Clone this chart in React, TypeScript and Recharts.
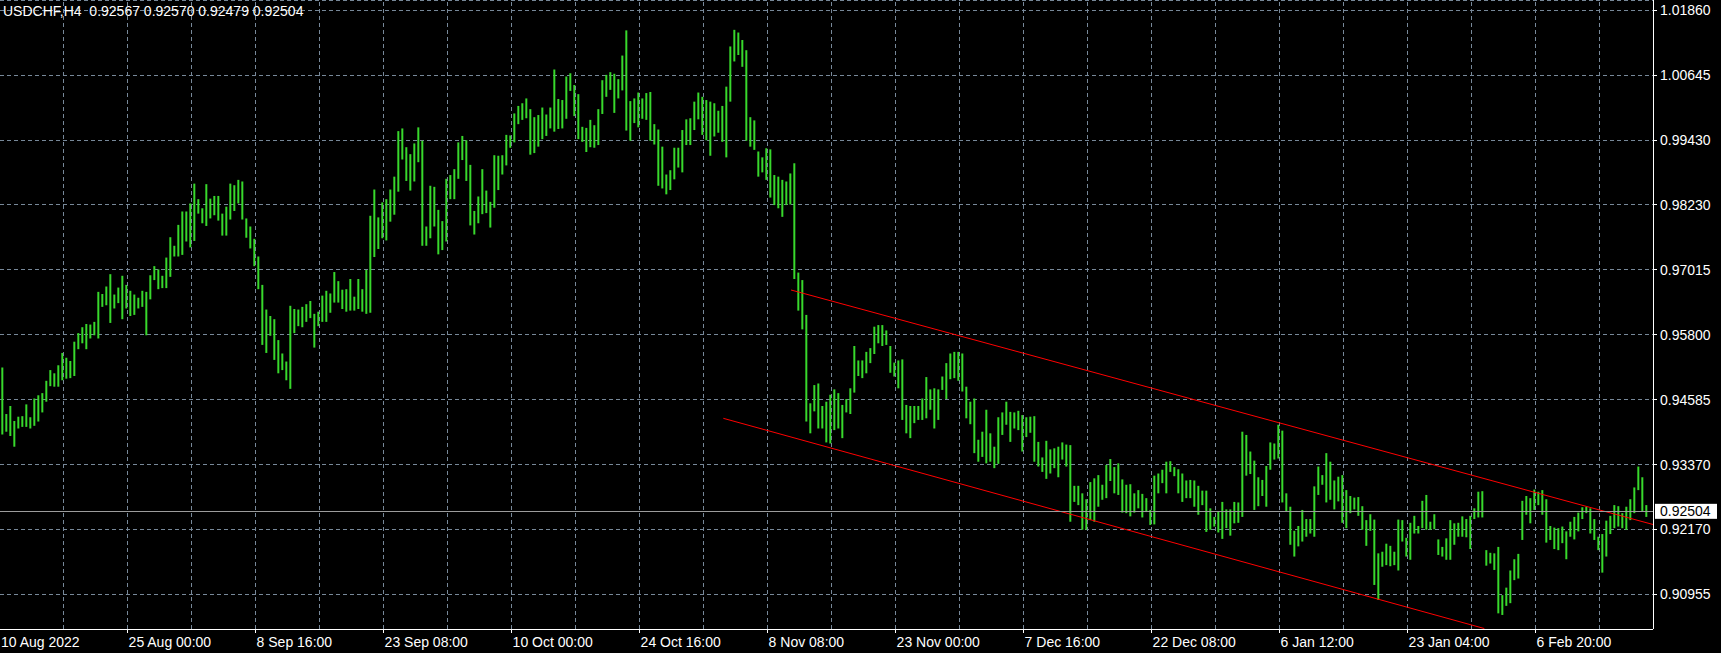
import React from 'react';
import { ComposedChart, Bar, XAxis, YAxis, CartesianGrid, ReferenceLine } from 'recharts';

const chartTitle = 'USDCHF,H4  0.92567 0.92570 0.92479 0.92504';
const lastPrice = 0.92504;
const priceTicks = [0.90955, 0.9217, 0.9337, 0.94585, 0.958, 0.97015, 0.9823, 0.9943, 1.00645, 1.0186];
const priceDomain = [0.90308, 1.02047];
const barDomain = [-0.58, 412.67];
const timeLabels = [
  '10 Aug 2022', '25 Aug 00:00', '8 Sep 16:00', '23 Sep 08:00', '10 Oct 00:00', '24 Oct 16:00',
  '8 Nov 08:00', '23 Nov 00:00', '7 Dec 16:00', '22 Dec 08:00', '6 Jan 12:00', '23 Jan 04:00', '6 Feb 20:00',
];
const gridFirstBar = 15.32;
const barsPerGrid = 16;
const gridCount = 25;

const barHigh = [
  0.9519, 0.9432, 0.9447, 0.9419, 0.9427, 0.9428, 0.9450, 0.9426, 0.9461, 0.9467,
  0.9471, 0.9494, 0.9514, 0.9508, 0.9523, 0.9546, 0.9537, 0.9531, 0.9567, 0.9583,
  0.9594, 0.9600, 0.9599, 0.9604, 0.9660, 0.9656, 0.9670, 0.9693, 0.9655, 0.9668,
  0.9690, 0.9673, 0.9662, 0.9655, 0.9649, 0.9662, 0.9660, 0.9691, 0.9708, 0.9702,
  0.9690, 0.9724, 0.9762, 0.9746, 0.9785, 0.9810, 0.9810, 0.9825, 0.9862, 0.9833,
  0.9816, 0.9861, 0.9834, 0.9839, 0.9839, 0.9806, 0.9819, 0.9862, 0.9859, 0.9869,
  0.9866, 0.9797, 0.9782, 0.9759, 0.9726, 0.9673, 0.9627, 0.9615, 0.9609, 0.9570,
  0.9545, 0.9530, 0.9634, 0.9628, 0.9627, 0.9632, 0.9637, 0.9643, 0.9619, 0.9623,
  0.9653, 0.9662, 0.9657, 0.9697, 0.9680, 0.9664, 0.9665, 0.9684, 0.9651, 0.9684,
  0.9665, 0.9701, 0.9802, 0.9851, 0.9799, 0.9827, 0.9833, 0.9851, 0.9875, 0.9960,
  0.9965, 0.9930, 0.9917, 0.9937, 0.9967, 0.9942, 0.9782, 0.9858, 0.9856, 0.9813,
  0.9792, 0.9871, 0.9878, 0.9889, 0.9939, 0.9951, 0.9943, 0.9897, 0.9811, 0.9838,
  0.9889, 0.9849, 0.9828, 0.9915, 0.9914, 0.9915, 0.9953, 0.9952, 0.9993, 1.0007,
  1.0012, 1.0021, 1.0001, 0.9986, 0.9990, 1.0004, 0.9991, 1.0004, 1.0075, 1.0020,
  1.0018, 1.0062, 1.0068, 1.0046, 1.0029, 0.9968, 0.9966, 0.9981, 0.9971, 1.0001,
  1.0055, 1.0065, 1.0070, 1.0067, 1.0057, 1.0101, 1.0148, 1.0016, 1.0021, 1.0032,
  1.0021, 1.0031, 1.0033, 0.9973, 0.9963, 0.9931, 0.9879, 0.9887, 0.9929, 0.9929,
  0.9962, 0.9982, 0.9984, 1.0015, 1.0032, 1.0024, 1.0018, 1.0015, 1.0012, 0.9998,
  1.0007, 1.0043, 1.0118, 1.0149, 1.0144, 1.0130, 1.0111, 0.9986, 0.9980, 0.9922,
  0.9911, 0.9928, 0.9926, 0.9878, 0.9875, 0.9869, 0.9866, 0.9881, 0.9900, 0.9696,
  0.9682, 0.9617, 0.9452, 0.9486, 0.9489, 0.9447, 0.9455, 0.9468, 0.9478, 0.9471,
  0.9449, 0.9460, 0.9480, 0.9559, 0.9532, 0.9532, 0.9548, 0.9555, 0.9595, 0.9598,
  0.9598, 0.9588, 0.9559, 0.9528, 0.9532, 0.9534, 0.9449, 0.9447, 0.9447, 0.9447,
  0.9461, 0.9501, 0.9478, 0.9480, 0.9478, 0.9502, 0.9527, 0.9545, 0.9548, 0.9548,
  0.9545, 0.9483, 0.9455, 0.9461, 0.9384, 0.9399, 0.9440, 0.9396, 0.9371, 0.9426,
  0.9435, 0.9455, 0.9436, 0.9435, 0.9438, 0.9430, 0.9426, 0.9427, 0.9428, 0.9380,
  0.9351, 0.9382, 0.9366, 0.9368, 0.9371, 0.9379, 0.9375, 0.9374, 0.9298, 0.9298,
  0.9284, 0.9273, 0.9305, 0.9312, 0.9318, 0.9300, 0.9337, 0.9348, 0.9333, 0.9340,
  0.9310, 0.9300, 0.9301, 0.9284, 0.9290, 0.9283, 0.9275, 0.9253, 0.9317, 0.9321,
  0.9328, 0.9343, 0.9344, 0.9333, 0.9329, 0.9321, 0.9308, 0.9309, 0.9308, 0.9298,
  0.9289, 0.9289, 0.9256, 0.9240, 0.9250, 0.9268, 0.9254, 0.9254, 0.9268, 0.9267,
  0.9399, 0.9393, 0.9362, 0.9345, 0.9314, 0.9309, 0.9335, 0.9379, 0.9377, 0.9412,
  0.9401, 0.9284, 0.9259, 0.9214, 0.9223, 0.9253, 0.9236, 0.9236, 0.9297, 0.9334,
  0.9318, 0.9359, 0.9343, 0.9308, 0.9315, 0.9318, 0.9290, 0.9279, 0.9276, 0.9277,
  0.9260, 0.9234, 0.9245, 0.9235, 0.9172, 0.9175, 0.9190, 0.9186, 0.9175, 0.9235,
  0.9234, 0.9201, 0.9229, 0.9242, 0.9223, 0.9270, 0.9281, 0.9231, 0.9245, 0.9198,
  0.9184, 0.9200, 0.9234, 0.9228, 0.9229, 0.9241, 0.9236, 0.9242, 0.9256, 0.9287,
  0.9288, 0.9178, 0.9173, 0.9172, 0.9184, 0.9094, 0.9108, 0.9140, 0.9161, 0.9171,
  0.9270, 0.9279, 0.9275, 0.9291, 0.9287, 0.9290, 0.9273, 0.9223, 0.9220, 0.9219,
  0.9222, 0.9213, 0.9231, 0.9240, 0.9248, 0.9258, 0.9259, 0.9256, 0.9236, 0.9203,
  0.9208, 0.9233, 0.9242, 0.9262, 0.9260, 0.9247, 0.9259, 0.9273, 0.9295, 0.9334,
  0.9314, 0.9262,
];

const barLow = [
  0.9394, 0.9399, 0.9391, 0.9371, 0.9405, 0.9408, 0.9408, 0.9405, 0.9410, 0.9418,
  0.9435, 0.9455, 0.9484, 0.9483, 0.9483, 0.9495, 0.9498, 0.9499, 0.9503, 0.9553,
  0.9564, 0.9553, 0.9573, 0.9579, 0.9573, 0.9632, 0.9635, 0.9602, 0.9629, 0.9639,
  0.9609, 0.9629, 0.9615, 0.9617, 0.9629, 0.9632, 0.9579, 0.9646, 0.9682, 0.9665,
  0.9667, 0.9667, 0.9688, 0.9726, 0.9726, 0.9729, 0.9754, 0.9743, 0.9755, 0.9806,
  0.9788, 0.9783, 0.9797, 0.9803, 0.9793, 0.9765, 0.9765, 0.9795, 0.9811, 0.9825,
  0.9795, 0.9761, 0.9741, 0.9708, 0.9665, 0.9561, 0.9546, 0.9578, 0.9533, 0.9508,
  0.9514, 0.9495, 0.9479, 0.9583, 0.9596, 0.9594, 0.9604, 0.9611, 0.9556, 0.9596,
  0.9604, 0.9604, 0.9621, 0.9640, 0.9640, 0.9628, 0.9623, 0.9625, 0.9625, 0.9628,
  0.9623, 0.9619, 0.9621, 0.9725, 0.9740, 0.9760, 0.9756, 0.9791, 0.9804, 0.9847,
  0.9907, 0.9867, 0.9849, 0.9866, 0.9902, 0.9746, 0.9746, 0.9760, 0.9782, 0.9730,
  0.9738, 0.9754, 0.9833, 0.9833, 0.9871, 0.9906, 0.9867, 0.9784, 0.9767, 0.9788,
  0.9805, 0.9807, 0.9780, 0.9817, 0.9850, 0.9879, 0.9896, 0.9929, 0.9939, 0.9973,
  0.9981, 0.9984, 0.9916, 0.9919, 0.9931, 0.9945, 0.9951, 0.9965, 0.9959, 0.9964,
  0.9965, 0.9983, 1.0035, 0.9988, 0.9945, 0.9940, 0.9921, 0.9930, 0.9929, 0.9934,
  0.9992, 1.0024, 1.0037, 0.9994, 1.0021, 1.0036, 0.9961, 0.9942, 0.9975, 0.9967,
  0.9983, 0.9981, 0.9942, 0.9935, 0.9858, 0.9853, 0.9842, 0.9850, 0.9870, 0.9892,
  0.9883, 0.9934, 0.9934, 0.9962, 0.9982, 0.9953, 0.9943, 0.9914, 0.9950, 0.9957,
  0.9940, 0.9911, 1.0015, 1.0090, 1.0102, 1.0080, 0.9942, 0.9931, 0.9925, 0.9875,
  0.9883, 0.9869, 0.9836, 0.9822, 0.9816, 0.9800, 0.9822, 0.9823, 0.9684, 0.9625,
  0.9590, 0.9418, 0.9396, 0.9437, 0.9405, 0.9405, 0.9379, 0.9377, 0.9402, 0.9405,
  0.9387, 0.9435, 0.9432, 0.9472, 0.9503, 0.9499, 0.9508, 0.9527, 0.9544, 0.9564,
  0.9559, 0.9561, 0.9509, 0.9502, 0.9480, 0.9421, 0.9396, 0.9387, 0.9415, 0.9421,
  0.9421, 0.9424, 0.9440, 0.9405, 0.9421, 0.9477, 0.9460, 0.9497, 0.9499, 0.9494,
  0.9474, 0.9424, 0.9413, 0.9359, 0.9343, 0.9352, 0.9340, 0.9343, 0.9331, 0.9339,
  0.9393, 0.9412, 0.9380, 0.9405, 0.9402, 0.9362, 0.9389, 0.9397, 0.9343, 0.9334,
  0.9324, 0.9311, 0.9321, 0.9331, 0.9314, 0.9347, 0.9334, 0.9231, 0.9268, 0.9262,
  0.9216, 0.9216, 0.9234, 0.9231, 0.9259, 0.9272, 0.9275, 0.9307, 0.9284, 0.9281,
  0.9248, 0.9247, 0.9241, 0.9248, 0.9256, 0.9239, 0.9249, 0.9225, 0.9226, 0.9284,
  0.9303, 0.9284, 0.9324, 0.9316, 0.9284, 0.9268, 0.9275, 0.9275, 0.9259, 0.9244,
  0.9262, 0.9212, 0.9216, 0.9222, 0.9211, 0.9199, 0.9219, 0.9205, 0.9228, 0.9229,
  0.9240, 0.9317, 0.9320, 0.9253, 0.9260, 0.9279, 0.9259, 0.9328, 0.9347, 0.9349,
  0.9267, 0.9250, 0.9188, 0.9166, 0.9185, 0.9194, 0.9203, 0.9209, 0.9203, 0.9281,
  0.9300, 0.9267, 0.9272, 0.9254, 0.9269, 0.9229, 0.9219, 0.9247, 0.9254, 0.9242,
  0.9216, 0.9186, 0.9214, 0.9113, 0.9085, 0.9147, 0.9150, 0.9148, 0.9150, 0.9140,
  0.9194, 0.9166, 0.9160, 0.9209, 0.9209, 0.9219, 0.9216, 0.9216, 0.9217, 0.9169,
  0.9166, 0.9160, 0.9160, 0.9188, 0.9203, 0.9203, 0.9202, 0.9180, 0.9236, 0.9239,
  0.9239, 0.9149, 0.9153, 0.9141, 0.9060, 0.9057, 0.9074, 0.9079, 0.9122, 0.9125,
  0.9197, 0.9244, 0.9228, 0.9253, 0.9262, 0.9244, 0.9192, 0.9197, 0.9180, 0.9178,
  0.9191, 0.9161, 0.9203, 0.9198, 0.9213, 0.9236, 0.9247, 0.9209, 0.9197, 0.9178,
  0.9136, 0.9166, 0.9208, 0.9219, 0.9222, 0.9219, 0.9216, 0.9234, 0.9247, 0.9290,
  0.9250, 0.9240,
];

const channelUpper = [
  { bar: 197.17, price: 0.96635 },
  { bar: 412.67, price: 0.92258 },
];
const channelLower = [
  { bar: 180.25, price: 0.9424 },
  { bar: 370.5, price: 0.90317 },
];

const FONT = '"Liberation Sans", Arial, sans-serif';
const GREEN = '#38D82C';
const GRID = '#778899';

const data = barHigh.map((h, i) => ({ bar: i, range: [barLow[i], h] }));
const gridBars = Array.from({ length: gridCount }, (_, k) => gridFirstBar + barsPerGrid * k);
const labelBars = [barDomain[0], ...gridBars.filter((_, k) => k % 2 === 1)];

const TimeTick = (props: any) => {
  const { x, y, index } = props;
  return (
    <g>
      {index > 0 && <line x1={x} y1={y} x2={x} y2={y + 4} stroke="#fff" shapeRendering="crispEdges" />}
      <text x={x + 1} y={y + 18} fill="#fff" fontSize={14} fontFamily={FONT} textAnchor="start">
        {timeLabels[index]}
      </text>
    </g>
  );
};

const PriceTick = (props: any) => {
  const { x, y, payload } = props;
  return (
    <g>
      <line x1={x} y1={y} x2={x + 4} y2={y} stroke="#fff" shapeRendering="crispEdges" />
      <text x={x + 7} y={y + 5} fill="#fff" fontSize={14} fontFamily={FONT} textAnchor="start">
        {Number(payload.value).toFixed(5)}
      </text>
    </g>
  );
};

const PriceBox = (props: any) => {
  const vb = props.viewBox || {};
  const bx = (vb.x || 0) + (vb.width || 0) + 2;
  const by = (vb.y || 0) - 7.5;
  return (
    <g>
      <rect x={bx} y={by} width={62} height={15} fill="#fff" />
      <text x={bx + 5} y={by + 12.5} fill="#000" fontSize={14} fontFamily={FONT}>
        {lastPrice.toFixed(5)}
      </text>
    </g>
  );
};

export default function App() {
  return (
    <div style={{ position: 'absolute', left: 0, top: 0, width: 1721, height: 653, background: '#000', overflow: 'hidden' }}>
      <ComposedChart
        width={1721}
        height={653}
        data={data}
        margin={{ top: 0, right: 0, bottom: 0, left: 0 }}
        barSize={2}
      >
        <CartesianGrid vertical={false} stroke={GRID} strokeDasharray="4 3" shapeRendering="crispEdges" />
        {gridBars.map((g, k) => (
          <ReferenceLine key={'g' + k} x={g} stroke={GRID} strokeDasharray="4 3" shapeRendering="crispEdges" ifOverflow="hidden" />
        ))}
        <XAxis
          dataKey="bar"
          type="number"
          domain={barDomain}
          allowDataOverflow
          ticks={labelBars}
          interval={0}
          height={24}
          tickSize={0}
          tickMargin={0}
          axisLine={{ stroke: '#fff', shapeRendering: 'crispEdges' }}
          tickLine={false}
          tick={<TimeTick />}
        />
        <YAxis
          orientation="right"
          type="number"
          domain={priceDomain}
          allowDataOverflow
          ticks={priceTicks}
          interval={0}
          width={68}
          tickSize={0}
          tickMargin={0}
          axisLine={{ stroke: '#fff', shapeRendering: 'crispEdges' }}
          tickLine={false}
          tick={<PriceTick />}
        />
        <Bar dataKey="range" fill={GREEN} isAnimationActive={false} />
        <ReferenceLine
          segment={[{ x: channelUpper[0].bar, y: channelUpper[0].price }, { x: channelUpper[1].bar, y: channelUpper[1].price }]}
          stroke="#FF0000"
          strokeWidth={1}
          ifOverflow="hidden"
        />
        <ReferenceLine
          segment={[{ x: channelLower[0].bar, y: channelLower[0].price }, { x: channelLower[1].bar, y: channelLower[1].price }]}
          stroke="#FF0000"
          strokeWidth={1}
          ifOverflow="hidden"
        />
        <ReferenceLine y={lastPrice} stroke="#9C9C9C" shapeRendering="crispEdges" label={PriceBox} />
      </ComposedChart>
      <div
        style={{
          position: 'absolute', left: 3, top: 3, color: '#fff', fontFamily: FONT, fontSize: 14,
          lineHeight: '16px', whiteSpace: 'pre', pointerEvents: 'none',
        }}
      >
        {chartTitle}
      </div>
    </div>
  );
}
